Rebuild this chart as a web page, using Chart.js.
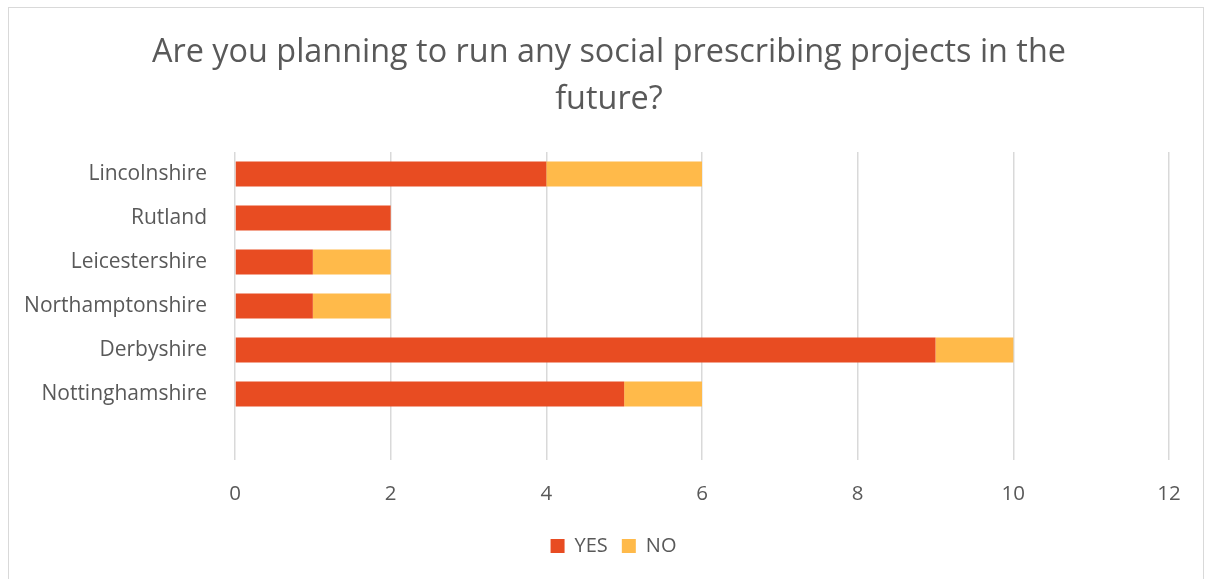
<!DOCTYPE html>
<html>
<head>
<meta charset="utf-8">
<script src="https://cdn.jsdelivr.net/npm/chart.js@4/dist/chart.umd.min.js"></script>
<style>
  html, body { margin: 0; padding: 0; background: #ffffff; }
  #frame { position: absolute; left: 8px; top: 7px; width: 1196px; height: 600px; border: 1px solid #d9d9d9; box-sizing: border-box; }
  #wrap { position: absolute; left: 0; top: 0; width: 1205px; height: 579px; }
</style>
</head>
<body>
<div id="frame"></div>
<div id="wrap"><canvas id="chart" width="1205" height="579"></canvas></div>
<script>
// Survey answers per county (the last, blank row is an empty category slot)
const categories = ['Lincolnshire', 'Rutland', 'Leicestershire', 'Northamptonshire', 'Derbyshire', 'Nottinghamshire', ''];
const yesValues = [4, 2, 1, 1, 9, 5, null];
const noValues = [2, 0, 1, 1, 1, 1, null];
const xTicks = [0, 2, 4, 6, 8, 10, 12];
const titleLines = ['Are you planning to run any social prescribing projects in the', 'future?'];

const FONT = "'Open Sans', 'Liberation Sans', sans-serif";
const TEXT = '#595959';

// Centre the title and legend on the framed card rather than the wide label column
const centreOnCard = {
  id: 'centreOnCard',
  afterLayout(chart) {
    if (chart.titleBlock) chart.titleBlock.left = 49;
    if (chart.legend) chart.legend.left = 58;
  }
};

new Chart(document.getElementById('chart'), {
  type: 'bar',
  data: {
    labels: categories,
    datasets: [
      { label: 'YES', data: yesValues, backgroundColor: '#E84C22', categoryPercentage: 1, barPercentage: 0.57 },
      { label: 'NO', data: noValues, backgroundColor: '#FFBA4A', categoryPercentage: 1, barPercentage: 0.57 }
    ]
  },
  plugins: [centreOnCard],
  options: {
    responsive: false,
    animation: false,
    indexAxis: 'y',
    layout: { padding: { left: 0, right: 36, top: 0, bottom: 13 } },
    scales: {
      x: {
        stacked: true,
        min: xTicks[0],
        max: xTicks[xTicks.length - 1],
        afterBuildTicks: (scale) => { scale.ticks = xTicks.map(v => ({ value: v })); },
        grid: { color: '#d9d9d9', lineWidth: 1.5, drawTicks: true, tickLength: 20, tickColor: 'rgba(0,0,0,0)' },
        border: { display: false },
        ticks: { color: TEXT, font: { family: FONT, size: 20.5 }, padding: 2 },
        afterFit: (scale) => { scale.height = 62; }
      },
      y: {
        stacked: true,
        grid: { display: false },
        border: { display: false },
        ticks: { color: TEXT, font: { family: FONT, size: 21 }, padding: 20 },
        afterFit: (scale) => { scale.width = 235; }
      }
    },
    plugins: {
      title: {
        display: true,
        text: titleLines,
        color: TEXT,
        font: { family: FONT, size: 32.4, weight: 'normal', lineHeight: 1.45 },
        padding: { top: 29.5, bottom: 28.5 }
      },
      legend: {
        position: 'bottom',
        labels: { color: TEXT, font: { family: FONT, size: 20 }, boxWidth: 14, boxHeight: 14, padding: 14 }
      },
      tooltip: { enabled: false }
    }
  }
});
</script>
</body>
</html>
